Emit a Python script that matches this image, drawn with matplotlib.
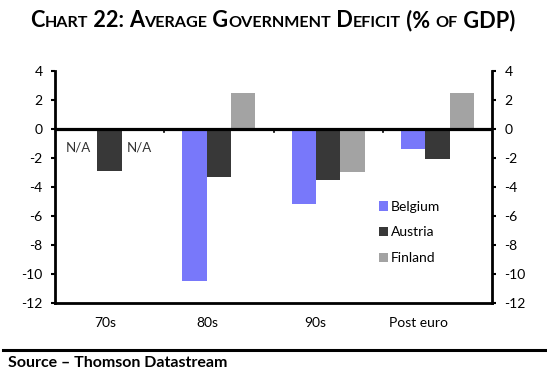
import matplotlib
matplotlib.use("Agg")
import matplotlib.pyplot as plt
import numpy as np

plt.rcParams['font.family'] = ['Lato', 'DejaVu Sans']

periods = ["70s", "80s", "90s", "Post euro"]
belgium = [np.nan, -10.5, -5.2, -1.4]
austria = [-2.9, -3.3, -3.5, -2.05]
finland = [np.nan, 2.5, -3.0, 2.45]
series_names = ["Belgium", "Austria", "Finland"]
colors = ["#7878fa", "#383838", "#a3a3a3"]
yticks = [4, 2, 0, -2, -4, -6, -8, -10, -12]

fig = plt.figure(figsize=(5.47, 3.75), dpi=100)
ax = fig.add_axes([0.1005, 0.192, 0.7990, 0.6187])

x = np.arange(len(periods))
w = 0.222
for i, (vals, name, c) in enumerate(zip([belgium, austria, finland], series_names, colors)):
    ax.bar(x + (i - 1) * w, vals, w, color=c, label=name, linewidth=0)

# no data for Belgium / Finland in the 70s
ax.text(-0.289, -1.3, "N/A", ha="center", va="center", fontsize=9.5, color="#333333")
ax.text(0.274, -1.3, "N/A", ha="center", va="center", fontsize=9.5, color="#333333")

ax.axhline(0, color="black", lw=2.3, zorder=3)
# category boundary ticks on the zero line
for b in [0.5, 1.5, 2.5]:
    ax.plot([b, b], [0, -0.22], color="black", lw=1.2, zorder=3)

ax.set_xlim(-0.5, 3.5)
ax.set_ylim(-12, 4)
ax.set_yticks(yticks)
ax.set_yticklabels([str(t) for t in yticks])
ax.tick_params(axis="y", direction="out", length=3, width=1.5, left=True, right=True,
               labelleft=True, labelright=True, labelsize=10, pad=6)
ax.set_xticks([-0.042, 0.892, 1.881, 2.824])
ax.set_xticklabels(periods)
ax.tick_params(axis="x", length=0, labelsize=10, pad=10)
ax.spines["top"].set_visible(False)
for s in ["left", "right", "bottom"]:
    ax.spines[s].set_linewidth(2)

ax.legend(loc="upper left", bbox_to_anchor=(0.682, 0.48), bbox_transform=fig.transFigure,
          frameon=False, fontsize=10, handlelength=0.7, handleheight=0.7,
          handletextpad=0.2, labelspacing=1.0, borderaxespad=0)

# title in small caps
runs = [("C", 15.7), ("HART", 11.6), (" 22: ", 15.7), ("A", 15.7), ("VERAGE", 11.6), (" G", 15.7),
        ("OVERNMENT", 11.6), (" D", 15.7), ("EFICIT", 11.6), (" (% ", 15.7), ("OF", 11.6), (" GDP)", 15.7)]
fig.canvas.draw()
r = fig.canvas.get_renderer()
texts = []
for s, fs in runs:
    t = fig.text(0, 1 - 27 / 375, s, fontsize=fs, fontweight="bold", va="baseline", ha="left")
    texts.append(t)
widths = [t.get_window_extent(r).width for t in texts]
xpos = 30
for t, wd in zip(texts, widths):
    t.set_x(xpos / 547)
    xpos += wd

fig.add_artist(plt.Line2D([0.005, 0.997], [0.0667, 0.0667], color="black", lw=2.2,
                          transform=fig.transFigure))
fig.text(0.014, 0.032, "Source \u2013 Thomson Datastream", fontsize=11.5, fontweight="bold",
         va="center", ha="left")

fig.savefig("out.png", dpi=100)
